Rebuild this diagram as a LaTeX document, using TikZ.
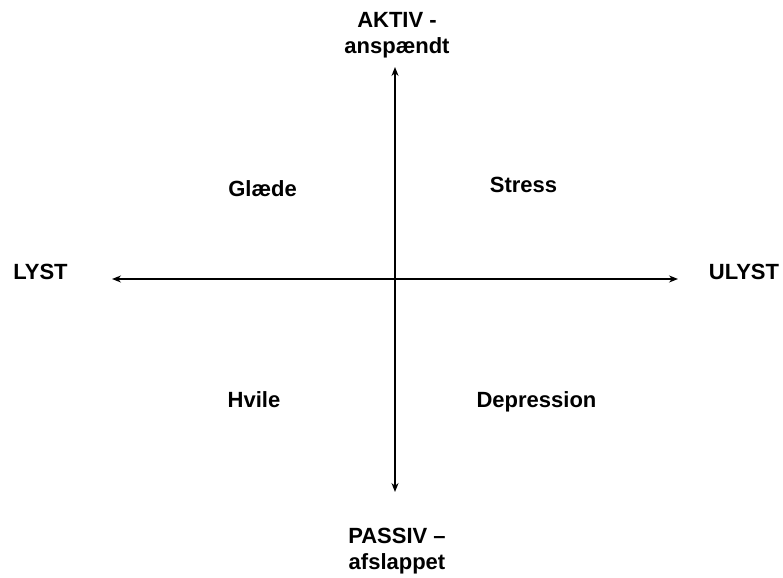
\documentclass[tikz,border=0pt]{standalone}
\usepackage{fontspec}
\setmainfont{Liberation Sans}
\usetikzlibrary{arrows.meta}
\begin{document}
\begin{tikzpicture}[x=1bp, y=-1bp]
    \tikzstyle{label_style}=[font=\fontsize{22bp}{26bp}\selectfont\bfseries, inner sep=0pt, anchor=base, align=center]
    \tikzstyle{axis_style}=[line width=1.4bp, -{Stealth[length=9bp, width=7bp]}]
    \useasboundingbox (0, 0) rectangle (783, 578);

    % axis ends
    \coordinate (axis_top) at (395, 67);
    \coordinate (axis_bottom) at (395, 492);
    \coordinate (axis_left) at (112, 279);
    \coordinate (axis_right) at (678, 279);
    \coordinate (axis_center) at (395, 279);

    % axis labels
    \node at (397, 54) [label_style] (aktiv) {AKTIV -\\anspændt};
    \node at (397, 569) [label_style] (passiv) {PASSIV –\\afslappet};
    \node at (40.5, 279) [label_style] (lyst) {LYST};
    \node at (744, 279) [label_style] (ulyst) {ULYST};

    % quadrants
    \node at (262.5, 197) [label_style] (glaede) {Glæde};
    \node at (523.5, 193) [label_style] (stress) {Stress};
    \node at (254, 407) [label_style] (hvile) {Hvile};
    \node at (536.5, 407) [label_style] (depression) {Depression};

    % connect: center -> axis ends
    \path[axis_style] (axis_center) edge node[] {} (axis_top);
    \path[axis_style] (axis_center) edge node[] {} (axis_bottom);
    \path[axis_style] (axis_center) edge node[] {} (axis_left);
    \path[axis_style] (axis_center) edge node[] {} (axis_right);
\end{tikzpicture}
\end{document}
